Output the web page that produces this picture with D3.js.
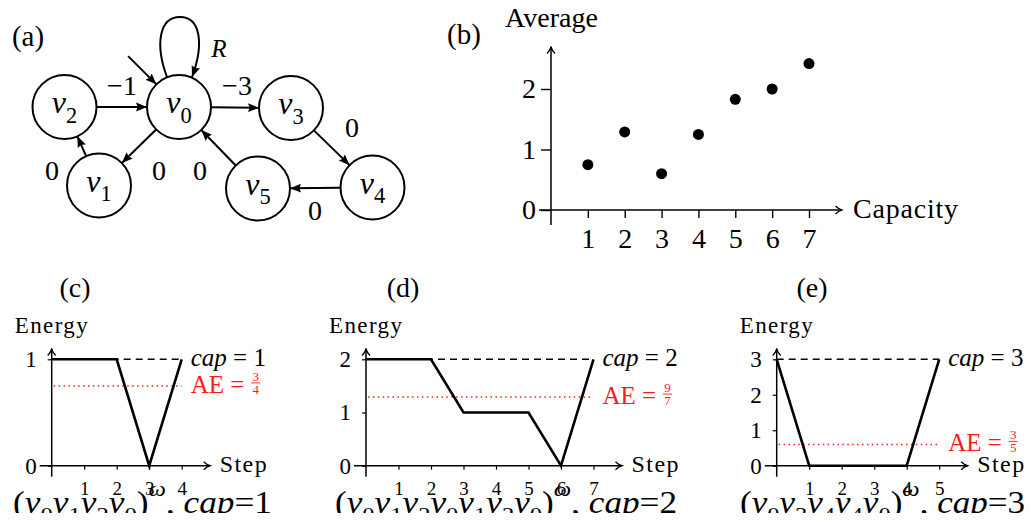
<!DOCTYPE html>
<html>
<head>
<meta charset="utf-8">
<script src="https://cdn.jsdelivr.net/npm/d3@7"></script>
<style>
  body { margin: 0; background: #fff; }
  svg text { font-family: "Liberation Serif", "Times New Roman", "DejaVu Serif", serif; fill: #000; white-space: pre; }
</style>
</head>
<body>
<svg id="fig" width="1031" height="522"></svg>
<script>
// ---- data ----
const nodeNames = ['v0', 'v1', 'v2', 'v3', 'v4', 'v5'];
const edgeFrom = ['v2', 'v0', 'v0', 'v1', 'v3', 'v4', 'v5'];
const edgeTo = ['v0', 'v3', 'v1', 'v2', 'v4', 'v5', 'v0'];
const edgeWeights = ['\u22121', '\u22123', '0', '0', '0', '0', '0'];

const capacities = [1, 2, 3, 4, 5, 6, 7];
const averages = [0.75, 1.29, 0.6, 1.25, 1.83, 2.0, 2.42];
const averageTicks = [0, 1, 2];

const energyC = [1, 1, 1, 0, 1];
const energyD = [2, 2, 2, 1, 1, 1, 0, 2];
const energyE = [3, 0, 0, 0, 0, 3];
const capValues = [1, 2, 3];
const aeNum = [3, 9, 3];
const aeDen = [4, 7, 5];
const aeValues = [0.75, 1.29, 0.6];
const cycles = [['0', '1', '2', '0'], ['0', '1', '2', '0', '1', '2', '0'], ['0', '3', '4', '4', '0']];

// ---- layout ----
const svg = d3.select('#fig');
const RED = '#ff1a1a';

const defs = svg.append('defs');
defs.append('marker')
  .attr('id', 'tri').attr('viewBox', '0 0 10 10')
  .attr('refX', 10).attr('refY', 5)
  .attr('markerWidth', 11).attr('markerHeight', 11)
  .attr('markerUnits', 'userSpaceOnUse').attr('orient', 'auto')
  .append('path').attr('d', 'M0,1 L10,5 L0,9 L1.5,5 Z').attr('fill', '#000');
defs.append('marker')
  .attr('id', 'open').attr('viewBox', '-1 -1 9 10')
  .attr('refX', 6.5).attr('refY', 4)
  .attr('markerWidth', 9).attr('markerHeight', 10)
  .attr('markerUnits', 'userSpaceOnUse').attr('orient', 'auto')
  .append('path').attr('d', 'M0,0 Q3,3 6.5,4 Q3,5 0,8').attr('fill', 'none')
  .attr('stroke', '#000').attr('stroke-width', 1.3);
defs.append('clipPath').attr('id', 'capclip')
  .append('rect').attr('x', 0).attr('y', 460).attr('width', 1031).attr('height', 53);

// write text made of pieces (italic, subscript, superscript)
function richText(g, x, y, size, parts, anchor) {
  const t = g.append('text')
    .attr('x', x).attr('y', y)
    .attr('font-size', size)
    .attr('text-anchor', anchor || 'start');
  let shift = 0;
  parts.forEach(p => {
    const target = p.sub ? 0.3 * size : p.sup ? -0.55 * size : 0;
    t.append('tspan')
      .attr('dy', target - shift)
      .attr('font-style', p.it ? 'italic' : null)
      .attr('font-size', (p.sub || p.sup) ? size * 0.7 : null)
      .text(p.t);
    shift = target;
  });
  return t;
}

// ---- (a) graph ----
const ga = svg.append('g');
const nodePos = {
  v0: [179, 107], v1: [99, 185.5], v2: [64.5, 107],
  v3: [291, 108], v4: [372.5, 187.5], v5: [258, 188.5]
};
const edgeLabelPos = [[122, 85], [237, 85], [159, 170], [52, 170], [352, 127], [315, 210], [200, 170]];
const rNode = 32;

richText(ga, 28, 46, 29, [{ t: '(a)' }], 'middle');

const edgeData = edgeFrom.map((f, i) => {
  const a = nodePos[f], b = nodePos[edgeTo[i]];
  const dx = b[0] - a[0], dy = b[1] - a[1];
  const len = Math.hypot(dx, dy);
  const ux = dx / len, uy = dy / len;
  return {
    x1: a[0] + ux * rNode, y1: a[1] + uy * rNode,
    x2: b[0] - ux * rNode, y2: b[1] - uy * rNode,
    w: edgeWeights[i], lp: edgeLabelPos[i]
  };
});

ga.selectAll('.edge')
  .data(edgeData)
  .join('line')
  .attr('class', 'edge')
  .attr('x1', d => d.x1).attr('y1', d => d.y1)
  .attr('x2', d => d.x2).attr('y2', d => d.y2)
  .attr('stroke', '#000').attr('stroke-width', 2)
  .attr('marker-end', 'url(#tri)');

ga.selectAll('.wlabel')
  .data(edgeData)
  .join('text')
  .attr('class', 'wlabel')
  .attr('x', d => d.lp[0]).attr('y', d => d.lp[1] + 9.5)
  .attr('text-anchor', 'middle')
  .attr('font-size', 28)
  .text(d => d.w);

// initial arrow into v0
const v0 = nodePos.v0;
const ang = Math.PI * 1.25;
ga.append('line')
  .attr('x1', v0[0] + Math.cos(ang) * (rNode + 40)).attr('y1', v0[1] + Math.sin(ang) * (rNode + 40))
  .attr('x2', v0[0] + Math.cos(ang) * rNode).attr('y2', v0[1] + Math.sin(ang) * rNode)
  .attr('stroke', '#000').attr('stroke-width', 2)
  .attr('marker-end', 'url(#tri)');

// self loop R on v0
ga.append('path')
  .attr('d', `M${v0[0] - 12},${v0[1] - 30} C${v0[0] - 24},${v0[1] - 62} ${v0[0] - 20},${v0[1] - 90} ${v0[0] + 1},${v0[1] - 90} C${v0[0] + 22},${v0[1] - 90} ${v0[0] + 25},${v0[1] - 62} ${v0[0] + 13},${v0[1] - 30}`)
  .attr('fill', 'none').attr('stroke', '#000').attr('stroke-width', 2)
  .attr('marker-end', 'url(#tri)');
richText(ga, 219, 57, 25, [{ t: 'R', it: true }], 'middle');

const nodes = ga.selectAll('.node')
  .data(nodeNames)
  .join('g')
  .attr('class', 'node')
  .attr('transform', d => `translate(${nodePos[d][0]},${nodePos[d][1]})`);
nodes.append('circle')
  .attr('r', rNode)
  .attr('fill', '#fff').attr('stroke', '#000').attr('stroke-width', 2);
nodes.each(function (d) {
  richText(d3.select(this), 0, 6, 32, [{ t: 'v', it: true }, { t: d.slice(1), sub: true }], 'middle');
});

// ---- (b) scatter ----
const gb = svg.append('g');
const xB = d3.scaleLinear().domain([0, 7]).range([551, 809]);
const yB = d3.scaleLinear().domain([0, 2]).range([210, 89]);

gb.append('g')
  .attr('transform', `translate(0,${yB(0)})`)
  .call(d3.axisBottom(xB).tickValues(capacities).tickSize(8).tickPadding(10).tickFormat(d3.format('d')))
  .call(g => g.select('.domain').remove())
  .attr('font-family', null).attr('font-size', 28)
  .call(g => g.selectAll('line').attr('stroke-width', 1.4));
gb.append('g')
  .attr('transform', `translate(${xB(0)},0)`)
  .call(d3.axisLeft(yB).tickValues(averageTicks).tickSize(10).tickPadding(5).tickFormat(d3.format('d')))
  .call(g => g.select('.domain').remove())
  .attr('font-family', null).attr('font-size', 28)
  .call(g => g.selectAll('line').attr('stroke-width', 1.4));

gb.append('line')
  .attr('x1', xB(0) - 12).attr('x2', xB(7) + 33)
  .attr('y1', yB(0)).attr('y2', yB(0))
  .attr('stroke', '#000').attr('stroke-width', 1.5).attr('marker-end', 'url(#open)');
gb.append('line')
  .attr('x1', xB(0)).attr('x2', xB(0))
  .attr('y1', yB(0) + 15).attr('y2', 47)
  .attr('stroke', '#000').attr('stroke-width', 1.5).attr('marker-end', 'url(#open)');

gb.selectAll('.dot')
  .data(averages)
  .join('circle')
  .attr('class', 'dot')
  .attr('cx', (d, i) => xB(capacities[i]))
  .attr('cy', d => yB(d))
  .attr('r', 5.5)
  .attr('fill', '#000');

richText(gb, 464, 44, 29, [{ t: '(b)' }], 'middle');
richText(gb, 505, 27, 28, [{ t: 'Average' }]).attr('textLength', 93);
richText(gb, 853, 218, 28, [{ t: 'Capacity' }]).attr('textLength', 105);

// ---- (c), (d), (e) energy plots ----
const energies = [energyC, energyD, energyE];
const panelX0 = [51.7, 366, 776.7];
const panelLabelX = [75, 403, 812];
const captionX = [13, 335, 740];
const captionW = [259, 342, 285];

energies.forEach((energy, k) => {
  const g = svg.append('g');
  const last = energy.length - 1;
  const cap = capValues[k];
  const x = d3.scaleLinear().domain([0, last]).range([panelX0[k], panelX0[k] + last * 32.5]);
  const y = d3.scaleLinear().domain([0, cap]).range([465.7, 359.3]);

  g.append('g')
    .attr('transform', `translate(0,${y(0)})`)
    .call(d3.axisBottom(x).tickValues(d3.range(1, last + 1)).tickSize(4).tickPadding(12).tickFormat(d3.format('d')))
    .call(s => s.select('.domain').remove())
    .attr('font-family', null).attr('font-size', 19)
    .call(s => s.selectAll('line').attr('stroke-width', 1.2));
  g.append('g')
    .attr('transform', `translate(${x(0)},0)`)
    .call(d3.axisLeft(y).tickValues(d3.range(0, cap + 1)).tickSize(4).tickPadding(11).tickFormat(d3.format('d')))
    .call(s => s.select('.domain').remove())
    .attr('font-family', null).attr('font-size', 23)
    .call(s => s.selectAll('line').attr('stroke-width', 1.2));

  // axes with arrows
  g.append('line')
    .attr('x1', x(0) - 12).attr('x2', x(last) + 28.5)
    .attr('y1', y(0)).attr('y2', y(0))
    .attr('stroke', '#000').attr('stroke-width', 1.5).attr('marker-end', 'url(#open)');
  g.append('line')
    .attr('x1', x(0)).attr('x2', x(0))
    .attr('y1', y(0) + 11).attr('y2', 349)
    .attr('stroke', '#000').attr('stroke-width', 1.5).attr('marker-end', 'url(#open)');

  // capacity (dashed) and average energy (red dotted)
  g.append('line')
    .attr('x1', x(0)).attr('x2', x(last))
    .attr('y1', y(cap)).attr('y2', y(cap))
    .attr('stroke', '#000').attr('stroke-width', 1.4).attr('stroke-dasharray', '7,5');
  g.append('line')
    .attr('x1', x(0) + 2).attr('x2', x(last))
    .attr('y1', y(aeValues[k])).attr('y2', y(aeValues[k]))
    .attr('stroke', RED).attr('stroke-width', 1.5).attr('stroke-dasharray', '1.5,3.4');

  g.append('path')
    .datum(energy)
    .attr('d', d3.line().x((d, i) => x(i)).y(d => y(d)))
    .attr('fill', 'none').attr('stroke', '#000').attr('stroke-width', 2.6);

  // labels
  richText(g, panelLabelX[k], 297, 28, [{ t: '(' + 'cde'[k] + ')' }], 'middle');
  richText(g, x(0) - 37, 333, 23, [{ t: 'Energy' }]).attr('textLength', 73);
  richText(g, x(last) + 38, 472, 24, [{ t: 'Step' }]).attr('textLength', 47);
  richText(g, x(last) + 9, y(cap) + 7, 25, [{ t: 'cap', it: true }, { t: ' = ' + cap }]);

  const ae = richText(g, x(last) + 9, y(aeValues[k]) + 7, 25, [{ t: 'AE = ' }]).style('fill', RED);
  const fx = x(last) + 9 + ae.node().getComputedTextLength() + 5;
  const fy = y(aeValues[k]) - 3;
  g.append('text').attr('x', fx).attr('y', fy - 2).attr('font-size', 13)
    .attr('text-anchor', 'middle').style('fill', RED).text(aeNum[k]);
  g.append('line').attr('x1', fx - 4.5).attr('x2', fx + 4.5).attr('y1', fy).attr('y2', fy)
    .attr('stroke', RED).attr('stroke-width', 0.9);
  g.append('text').attr('x', fx).attr('y', fy + 11).attr('font-size', 13)
    .attr('text-anchor', 'middle').style('fill', RED).text(aeDen[k]);

  // caption, cut at the bottom like the source figure
  const parts = [{ t: '(' }];
  cycles[k].forEach(c => { parts.push({ t: 'v', it: true }); parts.push({ t: c, sub: true }); });
  parts.push({ t: ')' }, { t: '\u03c9', sup: true, it: true }, { t: ', ' }, { t: 'cap', it: true }, { t: '=' + cap });
  richText(g.append('g').attr('clip-path', 'url(#capclip)'), captionX[k], 513, 31, parts)
    .attr('textLength', captionW[k]).attr('lengthAdjust', 'spacingAndGlyphs');
});
</script>
</body>
</html>
